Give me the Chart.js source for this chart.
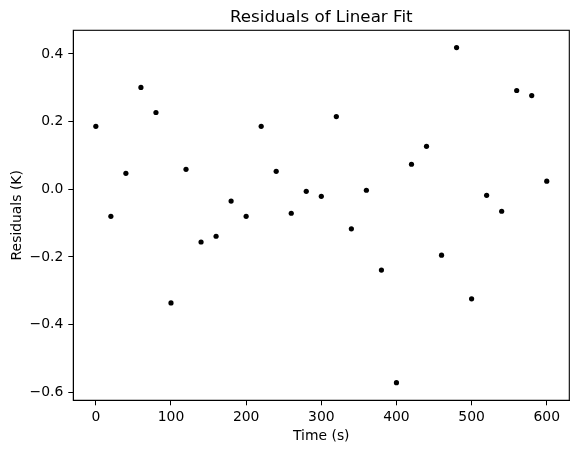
<!DOCTYPE html>
<html>
<head>
<meta charset="utf-8">
<script src="https://cdn.jsdelivr.net/npm/chart.js@4"></script>
<style>
  html, body { margin: 0; padding: 0; background: #fff; }
  #wrap { width: 579px; height: 453px; }
</style>
</head>
<body>
<div id="wrap"><canvas id="myChart"></canvas></div>
<script>
var times = [0, 20, 40, 60, 80, 100, 120, 140, 160, 180, 200, 220, 240, 260, 280, 300,
             320, 340, 360, 380, 400, 420, 440, 460, 480, 500, 520, 540, 560, 580, 600];
var residuals = [0.186, -0.080, 0.047, 0.301, 0.227, -0.336, 0.059, -0.156, -0.139, -0.035,
                 -0.080, 0.186, 0.053, -0.071, -0.006, -0.021, 0.215, -0.117, -0.003, -0.239,
                 -0.572, 0.074, 0.127, -0.195, 0.419, -0.324, -0.018, -0.065, 0.292, 0.277, 0.024];
var xTicks = [0, 100, 200, 300, 400, 500, 600];
var yTicks = [-0.6, -0.4, -0.2, 0.0, 0.2, 0.4];

var points = times.map(function (t, i) { return { x: t, y: residuals[i] }; });

var FONT = 'DejaVu Sans';

// frame round the plot + title centred over the axes, like matplotlib
var framePlugin = {
    id: 'frame',
    afterDraw: function (chart) {
        var a = chart.chartArea, ctx = chart.ctx;
        ctx.save();
        ctx.strokeStyle = '#000';
        ctx.lineWidth = 1.1;
        ctx.strokeRect(a.left, a.top, a.right - a.left, a.bottom - a.top);
        ctx.fillStyle = '#000';
        ctx.font = '16.7px "' + FONT + '"';
        ctx.textAlign = 'center';
        ctx.textBaseline = 'alphabetic';
        ctx.fillText('Residuals of Linear Fit', (a.left + a.right) / 2, 22);
        ctx.restore();
    }
};

var ctx = document.getElementById('myChart').getContext('2d');

var myChart = new Chart(ctx, {
    type: 'scatter',
    data: {
        datasets: [{
            data: points,
            backgroundColor: '#000',
            borderColor: '#000',
            pointRadius: 2.6,
            pointBorderWidth: 0
        }]
    },
    options: {
        responsive: true,
        maintainAspectRatio: false,
        animation: false,
        layout: { padding: { top: 30.3, right: 9.7, left: 0, bottom: 0 } },
        plugins: {
            legend: { display: false },
            tooltip: { enabled: false },
            title: { display: false }
        },
        scales: {
            x: {
                type: 'linear',
                min: -30,
                max: 630,
                afterBuildTicks: function (scale) {
                    scale.ticks = xTicks.map(function (v) { return { value: v }; });
                },
                afterFit: function (scale) { scale.height = 52.7; },
                grid: { drawOnChartArea: false, tickLength: 5, color: '#000', tickWidth: 1 },
                border: { display: true, color: '#000', width: 1 },
                ticks: {
                    color: '#000',
                    padding: 4,
                    maxRotation: 0,
                    font: { family: FONT, size: 13.9 },
                    callback: function (v) { return String(v); }
                },
                title: {
                    display: true,
                    text: 'Time (s)',
                    color: '#000',
                    font: { family: FONT, size: 13.9 },
                    padding: { top: 0, bottom: 8.6 }
                }
            },
            y: {
                min: -0.624,
                max: 0.47,
                afterBuildTicks: function (scale) {
                    scale.ticks = yTicks.map(function (v) { return { value: v }; });
                },
                afterFit: function (scale) { scale.width = 73.3; },
                grid: { drawOnChartArea: false, tickLength: 5, color: '#000', tickWidth: 1 },
                border: { display: true, color: '#000', width: 1 },
                ticks: {
                    color: '#000',
                    padding: 5,
                    font: { family: FONT, size: 13.9 },
                    callback: function (v) { return v.toFixed(1).replace('-', '\u2212'); }
                },
                title: {
                    display: true,
                    text: 'Residuals (K)',
                    color: '#000',
                    font: { family: FONT, size: 13.9 },
                    padding: { top: 8.6, bottom: 0 }
                }
            }
        }
    },
    plugins: [framePlugin]
});
</script>
</body>
</html>
